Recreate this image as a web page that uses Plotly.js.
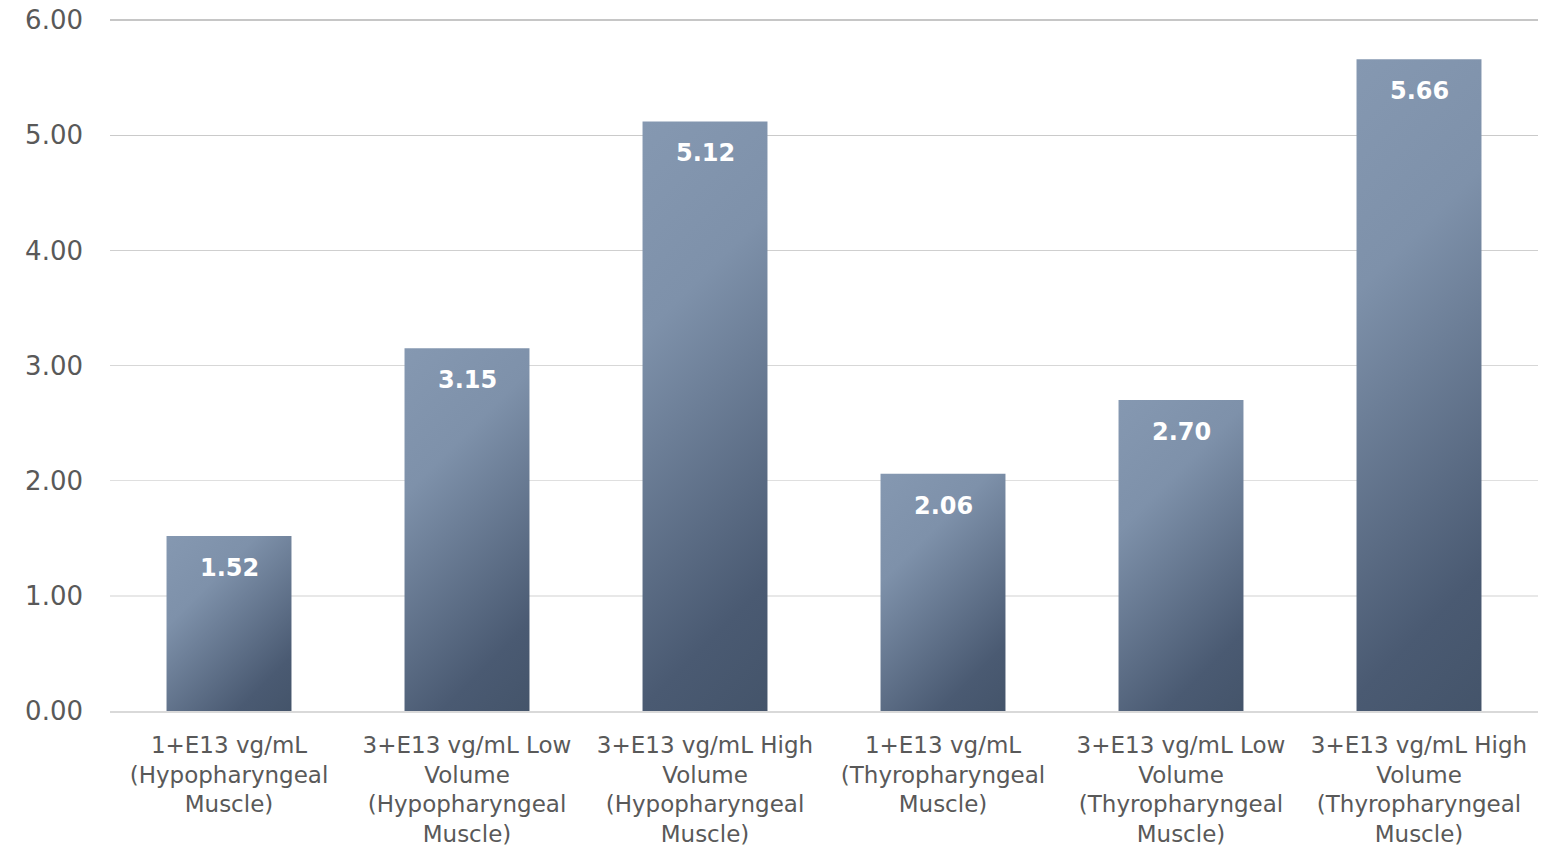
<!DOCTYPE html>
<html>
<head>
<meta charset="utf-8">
<script src="https://cdn.plot.ly/plotly-3.0.1.min.js"></script>
<style>
html,body{margin:0;padding:0;background:#fff;}
#chart{width:1548px;height:848px;}
</style>
</head>
<body>
<div id="chart"></div>
<script>
const categories = [
  "1+E13 vg/mL<br>(Hypopharyngeal<br>Muscle)",
  "3+E13 vg/mL Low<br>Volume<br>(Hypopharyngeal<br>Muscle)",
  "3+E13 vg/mL High<br>Volume<br>(Hypopharyngeal<br>Muscle)",
  "1+E13 vg/mL<br>(Thyropharyngeal<br>Muscle)",
  "3+E13 vg/mL Low<br>Volume<br>(Thyropharyngeal<br>Muscle)",
  "3+E13 vg/mL High<br>Volume<br>(Thyropharyngeal<br>Muscle)"
];
const values = [1.52, 3.15, 5.12, 2.06, 2.70, 5.66];
const tickValues = [0, 1, 2, 3, 4, 5, 6];
const tickLabels = ["0.00", "1.00", "2.00", "3.00", "4.00", "5.00", "6.00"];

const FONT = "DejaVu Sans, sans-serif";

const trace = {
  type: "bar",
  x: categories,
  y: values,
  marker: {color: "#62728b", line: {width: 0}},
  hoverinfo: "none"
};

const annotations = categories.map((c, i) => ({
  x: c, y: values[i], xref: "x", yref: "y",
  text: "<b>" + values[i].toFixed(2) + "</b>",
  showarrow: false, yanchor: "middle", yshift: -32,
  font: {family: FONT, size: 24, color: "#ffffff"}
}));

const layout = {
  width: 1548, height: 848,
  margin: {l: 110, r: 10, t: 19, b: 137},
  paper_bgcolor: "#ffffff", plot_bgcolor: "#ffffff",
  showlegend: false,
  bargap: 0.475,
  font: {family: FONT, color: "#595959"},
  xaxis: {
    type: "category",
    showgrid: false,
    showline: true, linecolor: "#d9d9d9", linewidth: 2,
    ticks: "", ticklabelstandoff: 12,
    tickfont: {family: FONT, size: 23, color: "#595959"},
    tickangle: 0
  },
  yaxis: {
    range: [0, 6.01],
    tickvals: tickValues, ticktext: tickLabels,
    showgrid: true, gridcolor: "#d9d9d9", gridwidth: 1.5,
    zeroline: false, showline: false,
    ticks: "", ticklabelstandoff: 26,
    tickfont: {family: FONT, size: 26, color: "#595959"}
  },
  annotations: annotations
};

Plotly.newPlot("chart", [trace], layout, {displayModeBar: false, staticPlot: true}).then(gd => {
  const svg = gd.querySelector("svg.main-svg");
  const NS = "http://www.w3.org/2000/svg";
  let defs = svg.querySelector("defs");
  if (!defs) { defs = document.createElementNS(NS, "defs"); svg.insertBefore(defs, svg.firstChild); }
  const stops = [["0", "#8598b1"], ["0.3", "#7e91aa"], ["0.82", "#4a5a72"], ["1", "#44546a"]];
  gd.querySelectorAll(".bars .point path").forEach((p, i) => {
    const b = p.getBBox();
    const d = (b.width + b.height) / 2;
    const grad = document.createElementNS(NS, "linearGradient");
    grad.setAttribute("id", "barGrad" + i);
    grad.setAttribute("gradientUnits", "userSpaceOnUse");
    grad.setAttribute("x1", b.x); grad.setAttribute("y1", b.y);
    grad.setAttribute("x2", b.x + d); grad.setAttribute("y2", b.y + d);
    stops.forEach(([o, c]) => {
      const s = document.createElementNS(NS, "stop");
      s.setAttribute("offset", o); s.setAttribute("stop-color", c);
      grad.appendChild(s);
    });
    defs.appendChild(grad);
    p.style.fill = "url(#barGrad" + i + ")";
  });

  // fading gridlines: darker at top, lighter toward bottom
  const ya = gd._fullLayout.yaxis;
  const top = ya._offset, bottom = ya._offset + ya._length;
  const cTop = [198, 198, 198], cBot = [242, 242, 242];
  gd.querySelectorAll(".gridlayer path.ygrid").forEach(p => {
    const t = p.getAttribute("transform") || "";
    const m = t.match(/translate\(\s*[-\d.]+\s*,\s*([-\d.]+)/);
    if (!m) return;
    const yy = parseFloat(m[1]);
    let f = Math.max(0, Math.min(1, (yy - top) / (bottom - top)));
    f = Math.pow(f, 1.4);
    const c = cTop.map((v, k) => Math.round(v + (cBot[k] - v) * f));
    p.style.stroke = "rgb(" + c.join(",") + ")";
  });
});
</script>
</body>
</html>
